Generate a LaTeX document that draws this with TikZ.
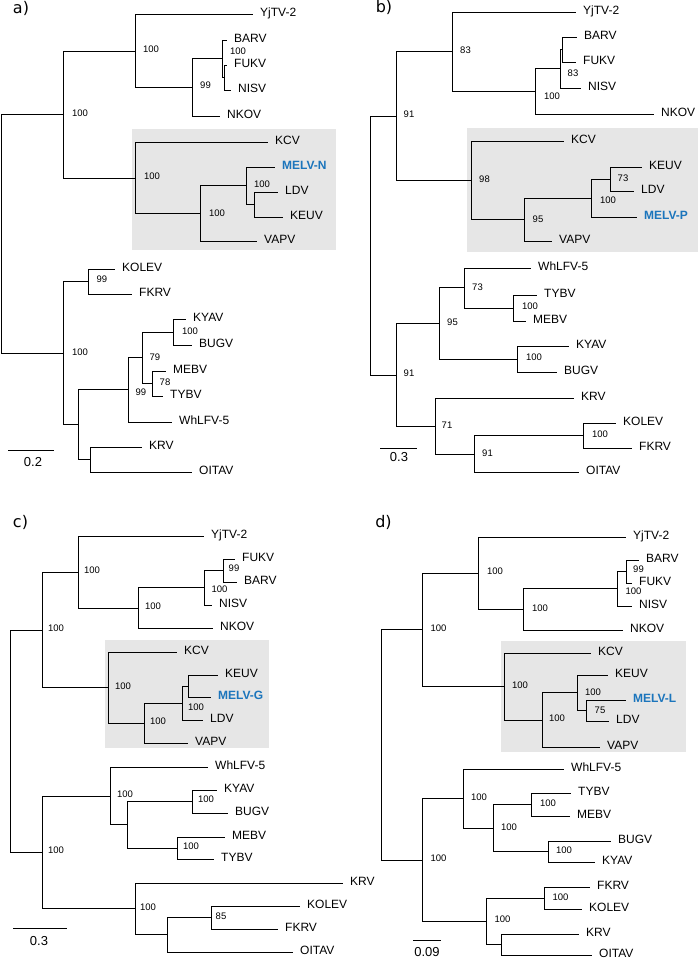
\documentclass[tikz,border=0pt]{standalone}
\usepackage{fontspec}
\setmainfont{Liberation Sans}
\newfontfamily\panelfont{DejaVu Sans}
\usepackage{tikz}
\definecolor{melvblue}{RGB}{27,117,188}
\definecolor{cladegray}{RGB}{230,230,230}
\tikzset{
  branch/.style={draw, line width=1pt},
  taxon/.style={anchor=west, inner xsep=7pt, inner ysep=0pt, text height=8.6pt, text depth=4pt, font=\fontsize{12}{14}\selectfont},
  melv/.style={taxon, text=melvblue, font=\fontsize{12}{14}\selectfont\bfseries},
  boot/.style={inner sep=0pt, text height=6.8pt, text depth=0pt, font=\fontsize{9.5}{11}\selectfont},
  panel/.style={inner sep=0pt, font=\panelfont\fontsize{16}{18}\selectfont},
  clade/.style={fill=cladegray},
  scalebar/.style={draw, line width=1pt},
  scalelab/.style={inner sep=0pt, font=\fontsize{13}{15}\selectfont}
}

\begin{document}
\begin{tikzpicture}[x=1pt,y=-1pt]
\useasboundingbox (0,0) rectangle (698,959);

% shaded MELV clades
\fill[clade] (132,129) rectangle (336,250);
\fill[clade] (467,128) rectangle (698,252);
\fill[clade] (105,640) rectangle (269,748);
\fill[clade] (501,641) rectangle (686,752);

% ---------------- a) ----------------
\node[panel] (pa) at (21,8.5) {a)};
\coordinate (aR) at (1.5,233.75);
\coordinate (a1) at (63,114.5);
\coordinate (a3) at (135,51);
\coordinate (a5) at (192,87.5);
\coordinate (a6) at (222,58.75);
\coordinate (a7) at (224,77.5);
\coordinate (a4) at (135,178);
\coordinate (a8) at (200,213.5);
\coordinate (a9) at (246,185.75);
\coordinate (a10) at (254,204.5);
\coordinate (a2) at (63,353);
\coordinate (a11) at (88,281.5);
\coordinate (a12) at (78,424.5);
\coordinate (a13) at (128,389.5);
\coordinate (a15) at (142,357.75);
\coordinate (a16) at (173,332);
\coordinate (a17) at (152,383.5);
\coordinate (a14) at (90,459.5);

\node[taxon] (aYjTV) at (253,14) {YjTV-2};
\node[taxon] (aBARV) at (227,40) {BARV};
\node[taxon] (aFUKV) at (227,65) {FUKV};
\node[taxon] (aNISV) at (231,90) {NISV};
\node[taxon] (aNKOV) at (220,116) {NKOV};
\node[taxon] (aKCV) at (268,142) {KCV};
\node[melv] (aMELV) at (275,167) {MELV-N};
\node[taxon] (aLDV) at (278,192) {LDV};
\node[taxon] (aKEUV) at (283,217) {KEUV};
\node[taxon] (aVAPV) at (257,241) {VAPV};
\node[taxon] (aKOLEV) at (115,269) {KOLEV};
\node[taxon] (aFKRV) at (132,294) {FKRV};
\node[taxon] (aKYAV) at (186,319) {KYAV};
\node[taxon] (aBUGV) at (192,345) {BUGV};
\node[taxon] (aMEBV) at (166,371) {MEBV};
\node[taxon] (aTYBV) at (163,396) {TYBV};
\node[taxon] (aWhLFV) at (172,422) {WhLFV-5};
\node[taxon] (aKRV) at (142,447) {KRV};
\node[taxon] (aOITAV) at (192,472) {OITAV};

\draw[branch] (aR) |- (a1) (aR) |- (a2);
\draw[branch] (a1) |- (a3) (a1) |- (a4);
\draw[branch] (a3) |- (aYjTV.west) (a3) |- (a5);
\draw[branch] (a5) |- (a6) (a5) |- (aNKOV.west);
\draw[branch] (a6) |- (aBARV.west) (a6) |- (a7);
\draw[branch] (a7) |- (aFUKV.west) (a7) |- (aNISV.west);
\draw[branch] (a4) |- (aKCV.west) (a4) |- (a8);
\draw[branch] (a8) |- (a9) (a8) |- (aVAPV.west);
\draw[branch] (a9) |- (aMELV.west) (a9) |- (a10);
\draw[branch] (a10) |- (aLDV.west) (a10) |- (aKEUV.west);
\draw[branch] (a2) |- (a11) (a2) |- (a12);
\draw[branch] (a11) |- (aKOLEV.west) (a11) |- (aFKRV.west);
\draw[branch] (a12) |- (a13) (a12) |- (a14);
\draw[branch] (a13) |- (a15) (a13) |- (aWhLFV.west);
\draw[branch] (a15) |- (a16) (a15) |- (a17);
\draw[branch] (a16) |- (aKYAV.west) (a16) |- (aBUGV.west);
\draw[branch] (a17) |- (aMEBV.west) (a17) |- (aTYBV.west);
\draw[branch] (a14) |- (aKRV.west) (a14) |- (aOITAV.west);

\node[boot] (a3s) at (151,49) {100};
\node[boot] (a6s) at (238,51) {100};
\node[boot] (a5s) at (205.5,85) {99};
\node[boot] (a1s) at (80,112.7) {100};
\node[boot] (a4s) at (152,176) {100};
\node[boot] (a8s) at (217,213) {100};
\node[boot] (a9s) at (262,184) {100};
\node[boot] (a11s) at (102,279) {99};
\node[boot] (a2s) at (80,351.7) {100};
\node[boot] (a16s) at (190,331) {100};
\node[boot] (a15s) at (155,356.7) {79};
\node[boot] (a17s) at (165,381.7) {78};
\node[boot] (a13s) at (141,391.7) {99};

\draw[scalebar] (8,450) -- (54,450);
\node[scalelab] (asc) at (33,462) {0.2};

% ---------------- b) ----------------
\node[panel] (pb) at (384,7.5) {b)};
\coordinate (bR) at (370,246);
\coordinate (b1) at (396,116);
\coordinate (b3) at (452,51.5);
\coordinate (b5) at (535,91.5);
\coordinate (b6) at (560,68.75);
\coordinate (b7) at (562,49.5);
\coordinate (b4) at (471,180.5);
\coordinate (b8) at (524,219.5);
\coordinate (b9) at (591,198);
\coordinate (b10) at (610,179);
\coordinate (b2) at (396,375.25);
\coordinate (b11) at (439,323.25);
\coordinate (b13) at (464,287.75);
\coordinate (b15) at (513,308);
\coordinate (b14) at (517,359);
\coordinate (b12) at (435,426.25);
\coordinate (b16) at (474,454);
\coordinate (b17) at (583,435.5);

\node[taxon] (bYjTV) at (576,12) {YjTV-2};
\node[taxon] (bBARV) at (577,37) {BARV};
\node[taxon] (bFUKV) at (576,62) {FUKV};
\node[taxon] (bNISV) at (581,88) {NISV};
\node[taxon] (bNKOV) at (654,114) {NKOV};
\node[taxon] (bKCV) at (564,141) {KCV};
\node[taxon] (bKEUV) at (642,167) {KEUV};
\node[taxon] (bLDV) at (634,191) {LDV};
\node[melv] (bMELV) at (637,217) {MELV-P};
\node[taxon] (bVAPV) at (552,241) {VAPV};
\node[taxon] (bWhLFV) at (531,268) {WhLFV-5};
\node[taxon] (bTYBV) at (537,295) {TYBV};
\node[taxon] (bMEBV) at (526,321) {MEBV};
\node[taxon] (bKYAV) at (569,346) {KYAV};
\node[taxon] (bBUGV) at (557,372) {BUGV};
\node[taxon] (bKRV) at (574,398) {KRV};
\node[taxon] (bKOLEV) at (616,423) {KOLEV};
\node[taxon] (bFKRV) at (632,448) {FKRV};
\node[taxon] (bOITAV) at (579,472) {OITAV};

\draw[branch] (bR) |- (b1) (bR) |- (b2);
\draw[branch] (b1) |- (b3) (b1) |- (b4);
\draw[branch] (b3) |- (bYjTV.west) (b3) |- (b5);
\draw[branch] (b5) |- (b6) (b5) |- (bNKOV.west);
\draw[branch] (b6) |- (b7) (b6) |- (bNISV.west);
\draw[branch] (b7) |- (bBARV.west) (b7) |- (bFUKV.west);
\draw[branch] (b4) |- (bKCV.west) (b4) |- (b8);
\draw[branch] (b8) |- (b9) (b8) |- (bVAPV.west);
\draw[branch] (b9) |- (b10) (b9) |- (bMELV.west);
\draw[branch] (b10) |- (bKEUV.west) (b10) |- (bLDV.west);
\draw[branch] (b2) |- (b11) (b2) |- (b12);
\draw[branch] (b11) |- (b13) (b11) |- (b14);
\draw[branch] (b13) |- (bWhLFV.west) (b13) |- (b15);
\draw[branch] (b15) |- (bTYBV.west) (b15) |- (bMEBV.west);
\draw[branch] (b14) |- (bKYAV.west) (b14) |- (bBUGV.west);
\draw[branch] (b12) |- (bKRV.west) (b12) |- (b16);
\draw[branch] (b16) |- (b17) (b16) |- (bOITAV.west);
\draw[branch] (b17) |- (bKOLEV.west) (b17) |- (bFKRV.west);

\node[boot] (b3s) at (465.5,50) {83};
\node[boot] (b7s) at (573,73) {83};
\node[boot] (b6s) at (552,96) {100};
\node[boot] (b1s) at (409,114) {91};
\node[boot] (b4s) at (484.5,179) {98};
\node[boot] (b8s) at (538,219) {95};
\node[boot] (b9s) at (608,200) {100};
\node[boot] (b10s) at (623,178) {73};
\node[boot] (b13s) at (477.5,286.7) {73};
\node[boot] (b15s) at (530,305.7) {100};
\node[boot] (b11s) at (452.5,322.3) {95};
\node[boot] (b14s) at (534,357.3) {100};
\node[boot] (b2s) at (409,372.7) {91};
\node[boot] (b12s) at (447,425) {71};
\node[boot] (b17s) at (600,434.3) {100};
\node[boot] (b16s) at (487.5,453.3) {91};

\draw[scalebar] (380,448) -- (417,448);
\node[scalelab] (bsc) at (399,457) {0.3};

% ---------------- c) ----------------
\node[panel] (pc) at (20.5,522) {c)};
\coordinate (cR) at (10,741);
\coordinate (c1) at (42,630);
\coordinate (c3) at (78,572);
\coordinate (c5) at (138,608);
\coordinate (c6) at (204,587.75);
\coordinate (c7) at (223,570.5);
\coordinate (c4) at (108,687);
\coordinate (c8) at (144,723);
\coordinate (c9) at (182,703);
\coordinate (c10) at (188,686);
\coordinate (c2) at (42,852);
\coordinate (c11) at (110,796);
\coordinate (c13) at (127,824.75);
\coordinate (c14) at (192,801.5);
\coordinate (c15) at (177,848);
\coordinate (c12) at (135,908.5);
\coordinate (c16) at (167,934.75);
\coordinate (c17) at (211,917.5);

\node[taxon] (cYjTV) at (204,536) {YjTV-2};
\node[taxon] (cFUKV) at (235,559) {FUKV};
\node[taxon] (cBARV) at (237,582) {BARV};
\node[taxon] (cNISV) at (212,605) {NISV};
\node[taxon] (cNKOV) at (213,628) {NKOV};
\node[taxon] (cKCV) at (177,652) {KCV};
\node[taxon] (cKEUV) at (218,675) {KEUV};
\node[melv] (cMELV) at (211,697) {MELV-G};
\node[taxon] (cLDV) at (203,720) {LDV};
\node[taxon] (cVAPV) at (188,743) {VAPV};
\node[taxon] (cWhLFV) at (208,767) {WhLFV-5};
\node[taxon] (cKYAV) at (217,790) {KYAV};
\node[taxon] (cBUGV) at (228,813) {BUGV};
\node[taxon] (cMEBV) at (225,837) {MEBV};
\node[taxon] (cTYBV) at (214,859) {TYBV};
\node[taxon] (cKRV) at (343,883) {KRV};
\node[taxon] (cKOLEV) at (300,906) {KOLEV};
\node[taxon] (cFKRV) at (278,929) {FKRV};
\node[taxon] (cOITAV) at (293,952) {OITAV};

\draw[branch] (cR) |- (c1) (cR) |- (c2);
\draw[branch] (c1) |- (c3) (c1) |- (c4);
\draw[branch] (c3) |- (cYjTV.west) (c3) |- (c5);
\draw[branch] (c5) |- (c6) (c5) |- (cNKOV.west);
\draw[branch] (c6) |- (c7) (c6) |- (cNISV.west);
\draw[branch] (c7) |- (cFUKV.west) (c7) |- (cBARV.west);
\draw[branch] (c4) |- (cKCV.west) (c4) |- (c8);
\draw[branch] (c8) |- (c9) (c8) |- (cVAPV.west);
\draw[branch] (c9) |- (c10) (c9) |- (cLDV.west);
\draw[branch] (c10) |- (cKEUV.west) (c10) |- (cMELV.west);
\draw[branch] (c2) |- (c11) (c2) |- (c12);
\draw[branch] (c11) |- (cWhLFV.west) (c11) |- (c13);
\draw[branch] (c13) |- (c14) (c13) |- (c15);
\draw[branch] (c14) |- (cKYAV.west) (c14) |- (cBUGV.west);
\draw[branch] (c15) |- (cMEBV.west) (c15) |- (cTYBV.west);
\draw[branch] (c12) |- (cKRV.west) (c12) |- (c16);
\draw[branch] (c16) |- (c17) (c16) |- (cOITAV.west);
\draw[branch] (c17) |- (cKOLEV.west) (c17) |- (cFKRV.west);

\node[boot] (c3s) at (92,570) {100};
\node[boot] (c5s) at (153,606) {100};
\node[boot] (c7s) at (234,568.3) {99};
\node[boot] (c6s) at (219.5,589.3) {100};
\node[boot] (c1s) at (56,627.7) {100};
\node[boot] (c4s) at (123,685.7) {100};
\node[boot] (c9s) at (196,706.7) {100};
\node[boot] (c8s) at (158,721) {100};
\node[boot] (c11s) at (125,794) {100};
\node[boot] (c14s) at (206,799.3) {100};
\node[boot] (c15s) at (191,845.7) {100};
\node[boot] (c2s) at (56,850) {100};
\node[boot] (c12s) at (148,906.7) {100};
\node[boot] (c17s) at (221,915.7) {85};

\draw[scalebar] (13,928) -- (67,928);
\node[scalelab] (csc) at (39,941) {0.3};

% ---------------- d) ----------------
\node[panel] (pd) at (383.5,522) {d)};
\coordinate (dR) at (381,745);
\coordinate (d1) at (422,629.5);
\coordinate (d3) at (478,573);
\coordinate (d5) at (523,609);
\coordinate (d6) at (617,588.75);
\coordinate (d7) at (626,571.5);
\coordinate (d4) at (504,686.75);
\coordinate (d8) at (542,720.25);
\coordinate (d9) at (577,692.75);
\coordinate (d10) at (586,710.5);
\coordinate (d2) at (422,860);
\coordinate (d11) at (463,798.25);
\coordinate (d13) at (493,828);
\coordinate (d14) at (531,804.5);
\coordinate (d15) at (548,851.5);
\coordinate (d12) at (486,921.25);
\coordinate (d16) at (544,898);
\coordinate (d17) at (501,944.5);

\node[taxon] (dYjTV) at (626,537) {YjTV-2};
\node[taxon] (dBARV) at (639,560) {BARV};
\node[taxon] (dFUKV) at (632,583) {FUKV};
\node[taxon] (dNISV) at (632,606) {NISV};
\node[taxon] (dNKOV) at (623,630) {NKOV};
\node[taxon] (dKCV) at (591,653) {KCV};
\node[taxon] (dKEUV) at (608,675) {KEUV};
\node[melv] (dMELV) at (626,700) {MELV-L};
\node[taxon] (dLDV) at (609,721) {LDV};
\node[taxon] (dVAPV) at (600,747) {VAPV};
\node[taxon] (dWhLFV) at (564,769) {WhLFV-5};
\node[taxon] (dTYBV) at (571,793) {TYBV};
\node[taxon] (dMEBV) at (570,816) {MEBV};
\node[taxon] (dBUGV) at (611,841) {BUGV};
\node[taxon] (dKYAV) at (595,862) {KYAV};
\node[taxon] (dFKRV) at (590,887) {FKRV};
\node[taxon] (dKOLEV) at (582,909) {KOLEV};
\node[taxon] (dKRV) at (579,934) {KRV};
\node[taxon] (dOITAV) at (592,955) {OITAV};

\draw[branch] (dR) |- (d1) (dR) |- (d2);
\draw[branch] (d1) |- (d3) (d1) |- (d4);
\draw[branch] (d3) |- (dYjTV.west) (d3) |- (d5);
\draw[branch] (d5) |- (d6) (d5) |- (dNKOV.west);
\draw[branch] (d6) |- (d7) (d6) |- (dNISV.west);
\draw[branch] (d7) |- (dBARV.west) (d7) |- (dFUKV.west);
\draw[branch] (d4) |- (dKCV.west) (d4) |- (d8);
\draw[branch] (d8) |- (d9) (d8) |- (dVAPV.west);
\draw[branch] (d9) |- (dKEUV.west) (d9) |- (d10);
\draw[branch] (d10) |- (dMELV.west) (d10) |- (dLDV.west);
\draw[branch] (d2) |- (d11) (d2) |- (d12);
\draw[branch] (d11) |- (dWhLFV.west) (d11) |- (d13);
\draw[branch] (d13) |- (d14) (d13) |- (d15);
\draw[branch] (d14) |- (dTYBV.west) (d14) |- (dMEBV.west);
\draw[branch] (d15) |- (dBUGV.west) (d15) |- (dKYAV.west);
\draw[branch] (d12) |- (d16) (d12) |- (d17);
\draw[branch] (d16) |- (dFKRV.west) (d16) |- (dKOLEV.west);
\draw[branch] (d17) |- (dKRV.west) (d17) |- (dOITAV.west);

\node[boot] (d3s) at (495,571) {100};
\node[boot] (d7s) at (638.5,569.3) {99};
\node[boot] (d6s) at (633.5,591) {100};
\node[boot] (d5s) at (540,607.7) {100};
\node[boot] (d1s) at (438.5,628.3) {100};
\node[boot] (d4s) at (520,685) {100};
\node[boot] (d9s) at (593,692.3) {100};
\node[boot] (d10s) at (600,710) {75};
\node[boot] (d8s) at (557,718.3) {100};
\node[boot] (d11s) at (479,797.3) {100};
\node[boot] (d14s) at (548,803.3) {100};
\node[boot] (d13s) at (509,826.7) {100};
\node[boot] (d15s) at (564,850) {100};
\node[boot] (d2s) at (438.5,858.3) {100};
\node[boot] (d16s) at (560.5,896.7) {100};
\node[boot] (d12s) at (502.5,919) {100};

\draw[scalebar] (413,940) -- (441,940);
\node[scalelab] (dsc) at (427,952) {0.09};

\end{tikzpicture}
\end{document}
